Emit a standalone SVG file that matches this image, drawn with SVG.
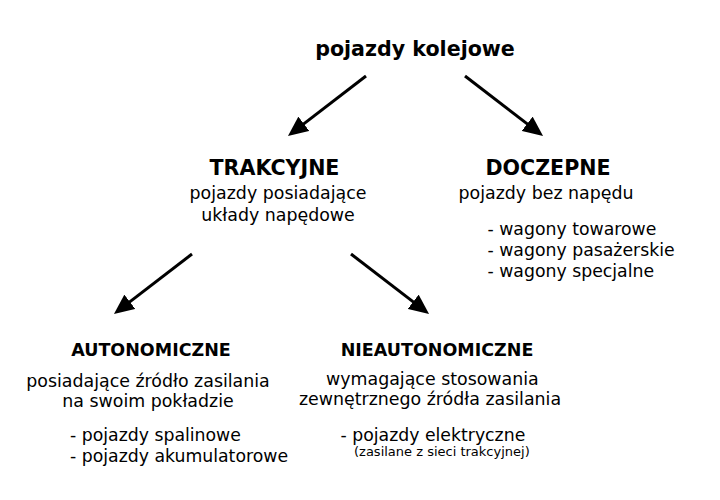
<svg xmlns="http://www.w3.org/2000/svg" width="720" height="500" viewBox="0 0 720 500">
<style>
text{font-family:"DejaVu Sans","Verdana",sans-serif;fill:#000}
.b20{font-size:20.6px;font-weight:bold}
.b17{font-size:17.5px;font-weight:bold}
.r17{font-size:17.4px}
.l17{font-size:17.3px}
.r13{font-size:13px}
.c{text-anchor:middle}
.conn line{stroke:#000;stroke-width:3}
</style>
<defs>
<marker id="ah" viewBox="0 0 20 18" markerWidth="20" markerHeight="18" refX="12" refY="9" orient="auto" markerUnits="userSpaceOnUse">
<path d="M0,0 L20,9 L0,18 z" fill="#000"/>
</marker>
</defs>
<rect width="720" height="500" fill="#fff"/>
<g id="connectors" class="conn">
<line x1="366" y1="76" x2="294.3" y2="131.1" marker-end="url(#ah)"/>
<line x1="465" y1="76" x2="536.7" y2="131.1" marker-end="url(#ah)"/>
<line x1="192" y1="254" x2="120.3" y2="309.1" marker-end="url(#ah)"/>
<line x1="351" y1="254" x2="422.7" y2="309.1" marker-end="url(#ah)"/>
</g>
<g id="root">
<text class="b20 c" x="415" y="56">pojazdy kolejowe</text>
</g>
<g id="trakcyjne">
<text class="b20 c" x="274.5" y="175">TRAKCYJNE</text>
<text class="r17 c" x="278" y="199">pojazdy posiadające</text>
<text class="r17 c" x="278" y="221">układy napędowe</text>
</g>
<g id="doczepne">
<text class="b20 c" x="548" y="175">DOCZEPNE</text>
<text class="r17" x="458.5" y="199">pojazdy bez napędu</text>
<text class="l17" x="487.5" y="235">- wagony towarowe</text>
<text class="l17" x="487.5" y="256">- wagony pasażerskie</text>
<text class="l17" x="487.5" y="277">- wagony specjalne</text>
</g>
<g id="autonomiczne">
<text class="b17 c" x="151" y="356">AUTONOMICZNE</text>
<text class="r17 c" x="148" y="387">posiadające źródło zasilania</text>
<text class="r17 c" x="148" y="407">na swoim pokładzie</text>
<text class="l17" x="70" y="441">- pojazdy spalinowe</text>
<text class="l17" x="70" y="461.5">- pojazdy akumulatorowe</text>
</g>
<g id="nieautonomiczne">
<text class="b17 c" x="437" y="356">NIEAUTONOMICZNE</text>
<text class="r17 c" x="432.4" y="385">wymagające stosowania</text>
<text class="r17 c" x="430" y="405">zewnętrznego źródła zasilania</text>
<text class="l17" x="340.5" y="441">- pojazdy elektryczne</text>
<text class="r13" x="354" y="456">(zasilane z sieci trakcyjnej)</text>
</g>
</svg>
